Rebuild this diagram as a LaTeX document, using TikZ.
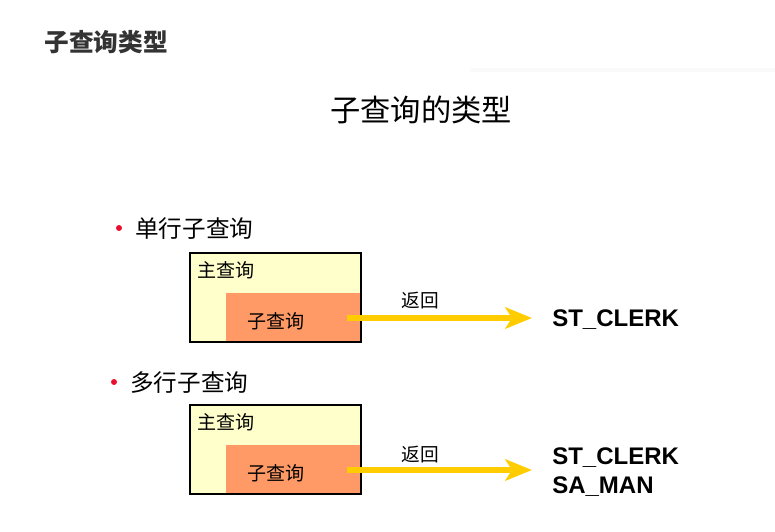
\documentclass[tikz,border=0pt]{standalone}
\usepackage{fontspec}
\setmainfont{Liberation Sans}
\newfontfamily\cjk{Noto Sans CJK SC}
\usetikzlibrary{arrows.meta}
\definecolor{mainbg}{HTML}{FFFFCC}
\definecolor{subbg}{HTML}{FF9966}
\definecolor{arrowyel}{HTML}{FFCC00}
\definecolor{dotred}{HTML}{E8102E}
\definecolor{titlegray}{HTML}{333333}
\tikzset{
  txt/.style={inner sep=0pt, font=\cjk},
  mainbox/.style={draw=black, line width=1.4pt, fill=mainbg},
  subbox/.style={fill=subbg},
  ret/.style={draw=arrowyel, line width=3.8pt, -{Stealth[inset=5pt,length=20pt,width=16pt]}},
  res/.style={inner sep=0pt, anchor=west, font=\fontsize{18}{20}\selectfont\bfseries}
}
\begin{document}
\begin{tikzpicture}[x=0.75pt,y=-0.75pt]
\useasboundingbox (0,0) rectangle (775,532);
\fill[black!2] (470,68) rectangle (775,72);
\node[txt, text=titlegray, font=\cjk\bfseries\fontsize{18.5}{20}\selectfont] (title) at (106,42) {子查询类型};
\node[txt, font=\cjk\fontsize{22.7}{24}\selectfont] (head) at (421,110) {子查询的类型};
% single row
\fill[dotred] (119,228) circle[radius=3];
\node[txt, anchor=west, font=\cjk\fontsize{17.7}{20}\selectfont] (single) at (135,229) {单行子查询};
\draw[mainbox] (190,253) rectangle (361,342);
\fill[subbox] (226,293) rectangle (360,341);
\draw[line width=1.4pt] (190,253) rectangle (361,342);
\node[txt, anchor=west, font=\cjk\fontsize{14.3}{16}\selectfont] (main1) at (197,270) {主查询};
\node[txt, font=\cjk\fontsize{14.3}{16}\selectfont] (sub1) at (276,321) {子查询};
\coordinate (s1) at (347,318);
\node[res] (r1) at (552,320) {ST\_CLERK};
\draw[ret] (s1) -- ([xshift=-15pt]r1.west |- s1);
\node[txt, font=\cjk\fontsize{14}{16}\selectfont] (back1) at (420,301) {返回};
% multi row
\fill[dotred] (114,382) circle[radius=3];
\node[txt, anchor=west, font=\cjk\fontsize{17.7}{20}\selectfont] (multi) at (130,383) {多行子查询};
\draw[mainbox] (190,405) rectangle (361,494);
\fill[subbox] (226,445) rectangle (360,493);
\draw[line width=1.4pt] (190,405) rectangle (361,494);
\node[txt, anchor=west, font=\cjk\fontsize{14.3}{16}\selectfont] (main2) at (197,422) {主查询};
\node[txt, font=\cjk\fontsize{14.3}{16}\selectfont] (sub2) at (276,473) {子查询};
\coordinate (s2) at (347,470);
\node[res] (r2) at (552,458) {ST\_CLERK};
\node[res] (r3) at (552,487) {SA\_MAN};
\draw[ret] (s2) -- ([xshift=-15pt]r2.west |- s2);
\node[txt, font=\cjk\fontsize{14}{16}\selectfont] (back2) at (420,455) {返回};
\end{tikzpicture}
\end{document}
